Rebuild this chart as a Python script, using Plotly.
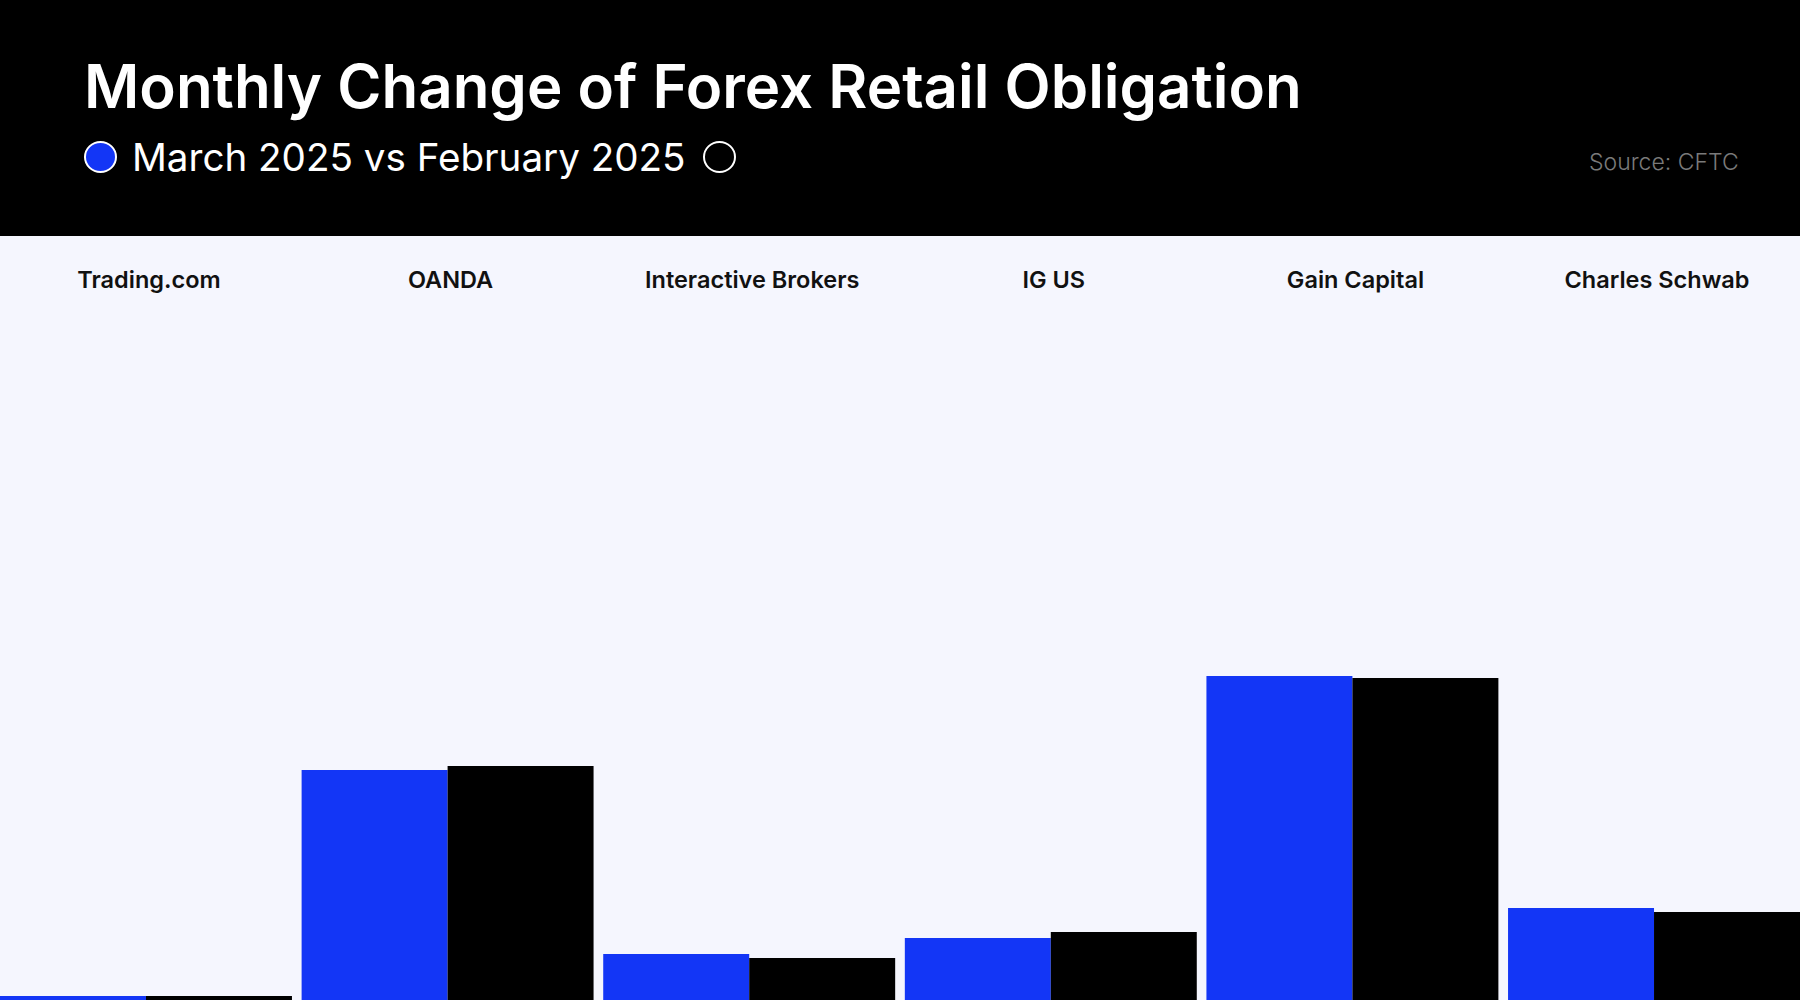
import plotly.graph_objects as go

# Retail forex obligations by broker (USD millions)
brokers = ["Trading.com", "OANDA", "Interactive Brokers", "IG US", "Gain Capital", "Charles Schwab"]
march_2025 = [94, 320, 136, 152, 414, 182]
february_2025 = [94, 324, 132, 158, 412, 178]

BLUE = "#1336F6"
BG = "#F5F6FE"
W, H = 1800, 1000

fig = go.Figure()
fig.add_trace(go.Bar(x=brokers, y=march_2025, name="March 2025",
                     marker=dict(color=BLUE, line=dict(width=0))))
fig.add_trace(go.Bar(x=brokers, y=february_2025, name="February 2025",
                     marker=dict(color="#000000", line=dict(width=0))))

def px_x(p):
    return p / W

def px_y(p):
    return 1 - p / H

shapes = [
    # black header band
    dict(type="rect", xref="paper", yref="paper", x0=0, x1=1, y0=px_y(236), y1=1,
         fillcolor="#000000", line=dict(width=0), layer="above"),
    # series markers beside the subtitle
    dict(type="circle", xref="paper", yref="paper",
         x0=px_x(85), x1=px_x(116), y0=px_y(172), y1=px_y(142),
         fillcolor=BLUE, line=dict(color="#FFFFFF", width=2)),
    dict(type="circle", xref="paper", yref="paper",
         x0=px_x(704), x1=px_x(735), y0=px_y(172), y1=px_y(142),
         fillcolor="#000000", line=dict(color="#FFFFFF", width=2)),
]

annotations = [
    dict(text="Monthly Change of Forex Retail Obligation", xref="paper", yref="paper",
         x=px_x(82), y=px_y(86), xanchor="left", yanchor="middle", showarrow=False,
         font=dict(family="Inter", size=60, color="#FFFFFF", weight=600)),
    dict(text="March 2025 vs February 2025", xref="paper", yref="paper",
         x=px_x(130), y=px_y(157), xanchor="left", yanchor="middle", showarrow=False,
         font=dict(family="Inter", size=38.6, color="#FFFFFF", weight=400)),
    dict(text="Source: CFTC", xref="paper", yref="paper",
         x=px_x(1741), y=px_y(162), xanchor="right", yanchor="middle", showarrow=False,
         font=dict(family="Inter", size=23, color="#7A7A7A", weight=300)),
]

fig.update_layout(
    width=W, height=H,
    margin=dict(l=0, r=0, t=0, b=0),
    paper_bgcolor=BG, plot_bgcolor=BG,
    barmode="group", bargap=0.032, bargroupgap=0,
    showlegend=False,
    shapes=shapes, annotations=annotations,
    xaxis=dict(side="top", range=[-0.484, 5.484], showgrid=False, zeroline=False,
               showline=False, ticks="", ticklabelshift=3, ticklabelstandoff=6,
               tickfont=dict(family="Inter", size=23.5, color="#111111", weight=600)),
    yaxis=dict(domain=[0, 0.7], range=[90, 790], showgrid=False, zeroline=False,
               showline=False, showticklabels=False, ticks=""),
)

fig.write_html("out.html")
